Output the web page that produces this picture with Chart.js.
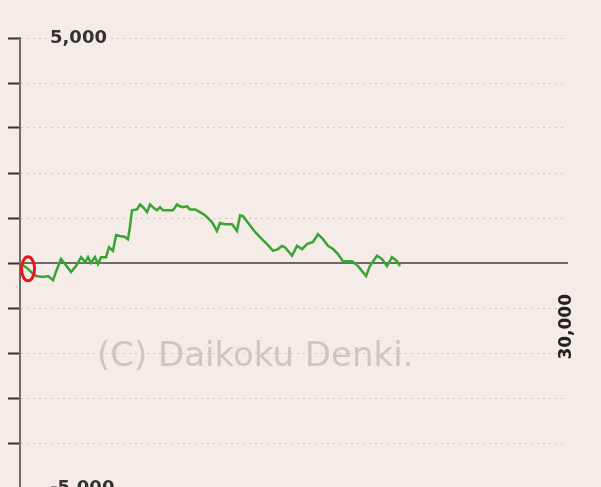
<!DOCTYPE html>
<html>
<head>
<meta charset="utf-8">
<script src="https://cdn.jsdelivr.net/npm/chart.js@4"></script>
<style>
  html, body { margin: 0; padding: 0; background: #f5ece7; overflow: hidden; }
  #wrap { position: absolute; left: 0; top: 0; width: 601px; height: 500px; }
</style>
</head>
<body>
<div id="wrap"><canvas id="myChart"></canvas></div>
<script>
// spins (x) and difference in medals (y)
var spins = [0, 440, 710, 880, 1260, 1540, 1810, 1970, 2250, 2470, 2800, 3070, 3350, 3570, 3730, 3890,
  4110, 4280, 4440, 4720, 4880, 5100, 5270, 5480, 5760, 5920, 6030, 6140, 6420, 6580, 6750, 6970,
  7130, 7290, 7510, 7680, 7840, 8060, 8390, 8610, 8770, 8940, 9160, 9320, 9600, 9870, 10150, 10530,
  10800, 10970, 11240, 11630, 11900, 12070, 12230, 12610, 12890, 13270, 13550, 13880, 14150, 14370,
  14530, 14920, 15190, 15470, 15740, 16070, 16340, 16620, 16890, 17170, 17440, 17710, 18210, 18540,
  18980, 19190, 19580, 19850, 20130, 20400, 20680, 20840];
var diff = [0, -130, -240, -290, -310, -290, -380, -200, 90, -20, -200, -70, 130, 20, 130, 0,
  130, -20, 130, 130, 350, 270, 620, 600, 580, 530, 800, 1170, 1190, 1300, 1240, 1130,
  1300, 1240, 1170, 1240, 1170, 1170, 1170, 1300, 1260, 1240, 1260, 1190, 1190, 1130, 1060, 910,
  710, 890, 860, 860, 710, 1060, 1040, 840, 690, 530, 420, 270, 310, 380,
  350, 160, 380, 310, 420, 470, 640, 530, 380, 310, 200, 40, 40, -70,
  -290, -70, 160, 90, -70, 130, 40, -70];
var yTickLabels = { '5000': '5,000', '-5000': '-5,000' };
var xTickLabels = { '30000': '30,000' };
var marker = { spin: 440, diff: -130 };
var watermark = '(C) Daikoku Denki.';

var points = spins.map(function(s, i) { return { x: s, y: diff[i] }; });

// watermark text and the red ring drawn over the data
var extras = {
    id: 'extras',
    beforeDatasetsDraw: function(chart) {
        var ctx = chart.ctx;
        ctx.save();
        ctx.font = '34px "DejaVu Sans"';
        ctx.fillStyle = '#cfc6c1';
        ctx.textBaseline = 'middle';
        ctx.fillText(watermark, 97, 357);
        ctx.restore();
    },
    afterDatasetsDraw: function(chart) {
        var ctx = chart.ctx;
        var px = chart.scales.x.getPixelForValue(marker.spin);
        var py = chart.scales.y.getPixelForValue(marker.diff);
        ctx.save();
        ctx.strokeStyle = '#e8141c';
        ctx.lineWidth = 3;
        ctx.beginPath();
        ctx.ellipse(px, py, 6.5, 12, 0, 0, Math.PI * 2);
        ctx.stroke();
        ctx.restore();
    }
};

var ctx = document.getElementById('myChart').getContext('2d');
var myChart = new Chart(ctx, {
    type: 'line',
    data: {
        datasets: [{
            data: points,
            borderColor: '#36a536',
            borderWidth: 2.5,
            pointRadius: 0,
            tension: 0
        }]
    },
    plugins: [extras],
    options: {
        responsive: true,
        maintainAspectRatio: false,
        animation: false,
        layout: { padding: { top: 38, bottom: 12, left: 0, right: 34 } },
        plugins: { legend: { display: false }, tooltip: { enabled: false } },
        scales: {
            x: {
                type: 'linear',
                min: 0,
                max: 30000,
                position: { y: 0 },
                afterBuildTicks: function(axis) { axis.ticks = [{ value: 30000 }]; },
                afterFit: function(axis) { axis.paddingLeft = 0; axis.paddingRight = 0; },
                grid: { display: false, drawTicks: false },
                border: { display: true, color: '#716a68', width: 2 },
                ticks: {
                    minRotation: 90,
                    maxRotation: 90,
                    padding: 31,
                    color: '#222',
                    font: { family: 'DejaVu Sans', size: 17, weight: 'bold' },
                    callback: function(v) { return xTickLabels[v] || ''; }
                }
            },
            y: {
                min: -5000,
                max: 5000,
                afterFit: function(axis) {
                    axis.width = 20;
                    axis.paddingTop = 0;
                    axis.paddingBottom = 0;
                },
                grid: {
                    color: function(c) { return c.tick && c.tick.value === 0 ? 'rgba(0,0,0,0)' : '#cfc7c3'; },
                    lineWidth: 1,
                    tickLength: 12,
                    tickColor: '#333',
                    tickWidth: 2
                },
                border: { display: true, color: '#716a68', width: 2, dash: [2, 4] },
                ticks: {
                    stepSize: 1000,
                    mirror: true,
                    padding: 30,
                    showLabelBackdrop: function(c) { return !!(c.tick && yTickLabels[c.tick.value]); },
                    backdropColor: '#f5ece7',
                    backdropPadding: 2,
                    color: '#333',
                    font: { family: 'DejaVu Sans', size: 18, weight: 'bold' },
                    callback: function(v) { return yTickLabels[v] || ''; }
                }
            }
        }
    }
});
</script>
</body>
</html>
